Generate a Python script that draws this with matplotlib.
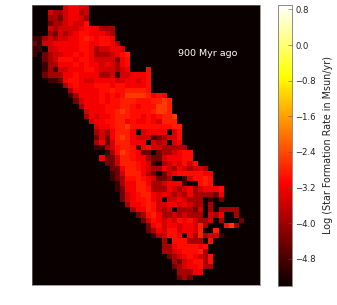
import numpy as np
import matplotlib
matplotlib.use("Agg")
import matplotlib.pyplot as plt

W, H = 337, 305
n_rows, n_cols = 54, 44
vmin, vmax = -5.4, 0.9

# log SFR assigned to each level code
level_values = [-5.38, -4.9, -4.4, -3.9, -3.5, -3.2, -2.97, -2.8, -2.55, -2.2]

# first occupied column of each row
row_starts = [6, 3, 3, 3, 3, 3, 0, 0, 0, 0, 2, 2, 2, 2, 3, 6, 7, 7,
              8, 9, 10, 10, 11, 12, 12, 12, 12, 12, 14, 13, 14, 15, 15, 15, 16, 16, 17, 17,
              18, 19, 20, 21, 22, 22, 23, 25, 25, 25, 26, 27, 27, 28, 28, 0]
# level codes of each row, from its first occupied column
row_levels = [
    "45544", "43345534", "33245543", "23345446",
    "4344445655333", "3243456655543", "1134344556765665",
    "21445555566556653", "110445555665344554", "1023445565653334567",
    "23466656654444256", "13355565655454356", "131445556654443450006",
    "23335565555" "334144" "5556", "11256654455554455456", "35655566656655556",
    "3555556676677776", "1355556565688887565", "2455565667776667787",
    "355556667765666887", "45556678766667887", "354556777665656778",
    "45566775655654777", "45567786666666677", "34357775045555046",
    "24257875444123446", "35247775550434045", "113467761564433333",
    "13687652202334566", "522477655322455566", "224777654103454646",
    "2257765433543543443", "12477753202456666655", "12366765422300146676",
    "1355775334555100676", "125577633354345345556", "24567754543435333325",
    "24566754044543330102", "35567644554543303", "355764340333240303333",
    "23675334343330435003", "24654546564334030002", "256455455473000683",
    "23546645547007", "13466505373441", "3066633306", "335666656", "334566673",
    "234565436", "32456636", "23455633", "33355", "232", ""]

cbar_ticks = [0.8, 0.0, -0.8, -1.6, -2.4, -3.2, -4.0, -4.8]
cbar_label = "Log (Star Formation Rate in Msun/yr)"
annotation = "900 Myr ago"

grid = np.full((n_rows, n_cols), level_values[0])
for r, (start, codes) in enumerate(zip(row_starts, row_levels)):
    for k, ch in enumerate(codes):
        grid[r, start + k] = level_values[int(ch)]

fig = plt.figure(figsize=(W / 100, H / 100), dpi=100, facecolor="white")
ax = fig.add_axes([32 / W, 1 - 285 / H, 228 / W, 280 / H])
im = ax.imshow(grid, cmap="hot", vmin=vmin, vmax=vmax, aspect="auto", interpolation="nearest")
ax.set_xticks([])
ax.set_yticks([])
for s in ax.spines.values():
    s.set_linewidth(0.5)
    s.set_color("#777777")
ax.text(208 / W, 1 - 54 / H, annotation, transform=fig.transFigure, color="white",
        fontsize=6.8, ha="center", va="center")

cax = fig.add_axes([278 / W, 1 - 285.5 / H, 14 / W, 280.5 / H])
cb = fig.colorbar(im, cax=cax, ticks=cbar_ticks)
cb.outline.set_linewidth(0.6)
cb.outline.set_edgecolor("#777777")
cax.tick_params(direction="in", length=3, width=0.4, color="#555555", labelsize=6.1,
                pad=2.5, labelcolor="#222222")
cb.set_label(cbar_label, fontsize=6.95, color="#222222", labelpad=5)

fig.savefig("out.png", dpi=100)
